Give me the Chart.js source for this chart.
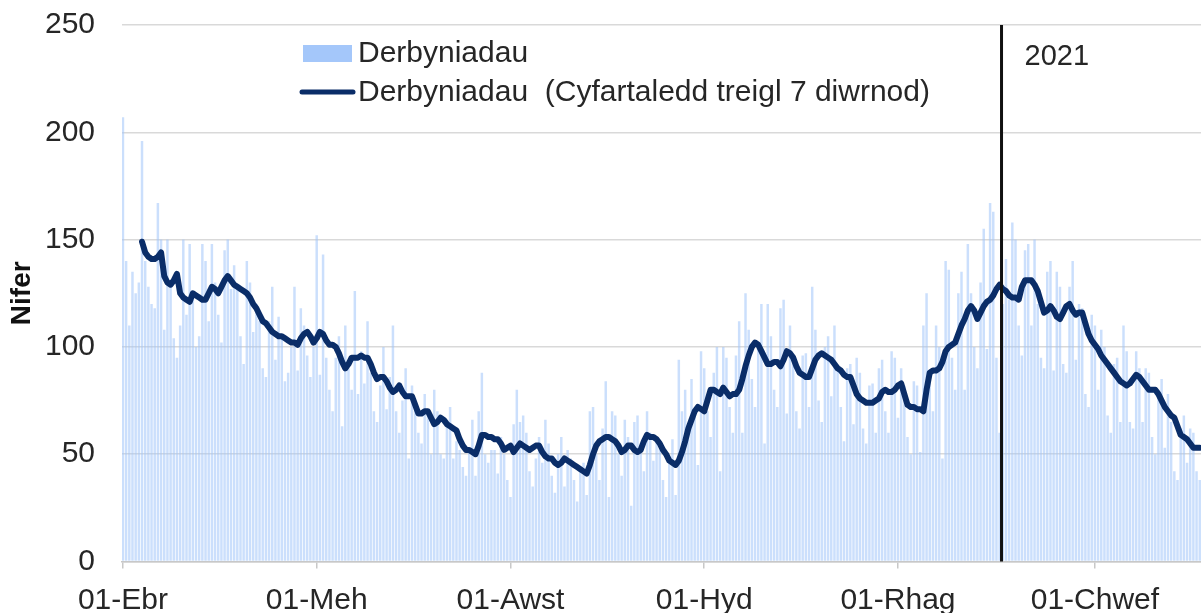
<!DOCTYPE html>
<html>
<head>
<meta charset="utf-8">
<script src="https://cdn.jsdelivr.net/npm/chart.js@4/dist/chart.umd.min.js"></script>
<style>
  html, body { margin: 0; padding: 0; background: #ffffff; overflow: hidden; }
  #wrap { width: 1201px; height: 613px; position: relative; }
</style>
</head>
<body>
<div id="wrap"><canvas id="c" width="1201" height="613"></canvas></div>
<script>
// ---- Data (days counted from 01-Ebr 2020) ----
const seriesBarLabel = 'Derbyniadau';
const seriesLineLabel = 'Derbyniadau  (Cyfartaledd treigl 7 diwrnod)';
const yAxisTitle = 'Nifer';
const tickDays = [0, 61, 122, 183, 244, 306];
const tickLabels = ['01-Ebr', '01-Meh', '01-Awst', '01-Hyd', '01-Rhag', '01-Chwef'];
const yearBoundaryDay = 276.6;
const yearLabel = '2021';

const dailyAdmissions = [
  207,140,110,135,125,130,196,
  140,128,120,118,167,150,108,
  150,130,104,95,110,150,115,
  148,122,100,105,148,140,112,
  148,130,115,102,145,150,127,
  138,128,105,92,140,130,107,
  120,112,90,86,112,128,94,
  114,104,84,88,100,128,89,
  118,110,96,86,100,152,87,
  143,95,80,70,95,105,63,
  110,90,80,126,78,98,83,
  112,88,70,65,82,100,71,
  86,110,70,60,75,90,48,
  82,74,60,55,78,70,50,
  80,70,50,48,66,72,48,
  56,52,44,40,52,66,40,
  70,88,50,46,52,52,41,
  58,50,38,30,64,80,65,
  68,60,42,35,48,58,46,
  66,55,40,32,50,58,35,
  52,48,38,28,44,46,31,
  70,72,50,38,62,84,30,
  70,68,50,40,66,58,26,
  65,68,54,42,70,60,47,
  58,55,38,30,46,57,31,
  94,70,80,60,85,70,45,
  98,90,70,58,88,100,42,
  100,95,72,60,96,112,60,
  125,108,85,72,100,120,55,
  120,105,80,72,118,122,69,
  110,95,70,62,96,97,72,
  128,108,75,65,100,105,77,
  110,90,72,56,90,92,64,
  95,88,62,55,82,83,60,
  90,94,70,60,98,95,67,
  90,82,58,50,84,82,51,
  110,125,88,70,110,100,48,
  140,136,95,80,125,135,80,
  148,125,100,90,130,155,99,
  167,163,95,60,120,141,122,
  158,150,110,96,145,148,110,
  150,120,95,90,135,140,89,
  135,128,92,88,128,140,94,
  120,118,78,72,115,110,80,
  108,100,68,60,92,95,65,
  110,98,65,62,98,90,65,
  90,88,58,50,80,85,53,
  78,65,42,38,62,68,46,
  62,60,42,38
];

const rollingAverage = [
  null,null,null,null,null,null,
  149,144,142,141,141,142,144,133,130,129,131,134,125,123,
  122,121,125,124,123,122,122,125,128,127,125,128,131,133,131,129,
  128,127,126,125,123,120,118,115,112,111,109,107,106,105,105,104,
  103,102,102,101,104,106,107,105,102,104,107,106,103,101,101,100,
  97,93,90,92,95,95,95,96,95,95,92,88,85,86,86,84,
  81,79,80,82,79,77,77,77,73,69,69,70,70,67,64,65,
  67,66,64,63,62,61,57,54,52,52,51,50,54,59,59,58,
  58,57,57,55,52,53,54,51,53,55,54,53,52,53,54,54,
  51,49,48,48,46,45,46,48,47,46,45,44,43,42,41,45,
  50,54,56,57,58,58,57,56,54,51,52,54,54,52,51,52,
  56,59,58,58,57,55,52,50,47,46,45,47,51,56,62,66,
  70,72,71,70,75,80,80,79,78,81,79,77,78,78,80,85,
  91,96,100,102,101,98,95,92,92,93,93,91,94,98,97,95,
  91,88,87,86,86,90,94,96,97,96,95,94,92,90,89,87,
  86,86,82,78,76,75,74,74,74,75,76,79,80,79,79,80,
  82,83,78,73,72,72,71,71,70,80,88,89,89,90,93,98,
  100,101,102,106,110,113,117,119,117,113,116,119,121,122,124,127,
  129,127,126,124,123,123,122,128,131,131,131,129,126,121,116,117,
  119,117,114,113,116,119,120,117,115,116,116,111,106,103,101,99,
  96,94,92,90,88,86,84,83,82,83,85,87,86,84,82,80,
  80,80,78,75,72,70,68,67,63,59,58,57,55,53,53,53
];

// ---- Build chart data from the arrays ----
const barPoints = dailyAdmissions.map((v, i) => ({ x: i, y: v }));
const linePoints = rollingAverage.map((v, i) => ({ x: i, y: v }));

const FONT = "'Liberation Sans', Arial, sans-serif";
const TEXT = '#262626';
const BAR_COLOR = 'rgba(160,197,250,0.55)';
const LEGEND_BAR_COLOR = '#a4c7fa';
const LINE_COLOR = '#0a2d68';

const overlayPlugin = {
  id: 'overlay',
  afterDatasetsDraw(chart) {
    const { ctx, chartArea, scales } = chart;
    // year boundary marker
    const xm = scales.x.getPixelForValue(yearBoundaryDay);
    ctx.save();
    ctx.strokeStyle = '#111111';
    ctx.lineWidth = 3;
    ctx.beginPath();
    ctx.moveTo(xm, chartArea.top);
    ctx.lineTo(xm, chartArea.bottom);
    ctx.stroke();
    ctx.fillStyle = TEXT;
    ctx.font = '29px ' + FONT;
    ctx.textBaseline = 'middle';
    ctx.textAlign = 'left';
    ctx.fillText(yearLabel, xm + 23, 57);

    // legend
    const ds = chart.data.datasets;
    const lx = 303;
    ctx.font = '30px ' + FONT;
    ctx.fillStyle = LEGEND_BAR_COLOR;
    ctx.fillRect(lx, 45, 49, 17);
    ctx.fillStyle = TEXT;
    ctx.fillText(ds[0].label, lx + 55, 54);
    ctx.strokeStyle = ds[1].borderColor;
    ctx.lineWidth = 5;
    ctx.lineCap = 'round';
    ctx.beginPath();
    ctx.moveTo(lx - 1, 92);
    ctx.lineTo(lx + 50, 92);
    ctx.stroke();
    ctx.fillText(ds[1].label, lx + 55, 93);
    ctx.restore();
  }
};

new Chart(document.getElementById('c'), {
  type: 'bar',
  data: {
    datasets: [
      {
        type: 'bar',
        label: seriesBarLabel,
        data: barPoints,
        backgroundColor: BAR_COLOR,
        borderWidth: 0,
        barPercentage: 0.78,
        categoryPercentage: 1.0,
        grouped: false,
        order: 2
      },
      {
        type: 'line',
        label: seriesLineLabel,
        data: linePoints,
        borderColor: LINE_COLOR,
        backgroundColor: LINE_COLOR,
        borderWidth: 6,
        pointRadius: 0,
        tension: 0,
        borderJoinStyle: 'round',
        borderCapStyle: 'round',
        order: 1
      }
    ]
  },
  options: {
    responsive: false,
    animation: false,
    events: [],
    layout: { padding: { top: 5, right: 0, bottom: 0, left: 0 } },
    plugins: {
      legend: { display: false },
      tooltip: { enabled: false }
    },
    scales: {
      x: {
        type: 'linear',
        offset: false,
        min: -0.3,
        max: 339.4,
        afterBuildTicks: (scale) => { scale.ticks = tickDays.map(v => ({ value: v })); },
        afterFit: (scale) => { scale.height = 51.5; },
        grid: {
          offset: false,
          drawOnChartArea: false,
          drawTicks: true,
          tickLength: 7,
          color: '#c8c8c8',
          lineWidth: 1.5
        },
        border: { display: true, color: '#c8c8c8', width: 1.5 },
        ticks: {
          autoSkip: false,
          maxRotation: 0,
          padding: 14,
          color: TEXT,
          font: { family: FONT, size: 30 },
          callback: (value) => {
            const idx = tickDays.indexOf(value);
            return idx >= 0 ? tickLabels[idx] : '';
          }
        }
      },
      y: {
        min: 0,
        max: 250,
        afterFit: (scale) => { scale.width = 122; },
        grid: {
          color: '#d9d9d9',
          lineWidth: 1.5,
          drawTicks: true,
          tickLength: 20,
          tickColor: 'rgba(0,0,0,0)'
        },
        border: { display: false },
        ticks: {
          stepSize: 50,
          padding: 7,
          color: TEXT,
          font: { family: FONT, size: 30 }
        },
        title: {
          display: true,
          text: yAxisTitle,
          color: '#111111',
          font: { family: FONT, size: 28, weight: 'bold' },
          padding: { top: 5, bottom: 0 }
        }
      }
    }
  },
  plugins: [overlayPlugin]
});
</script>
</body>
</html>
